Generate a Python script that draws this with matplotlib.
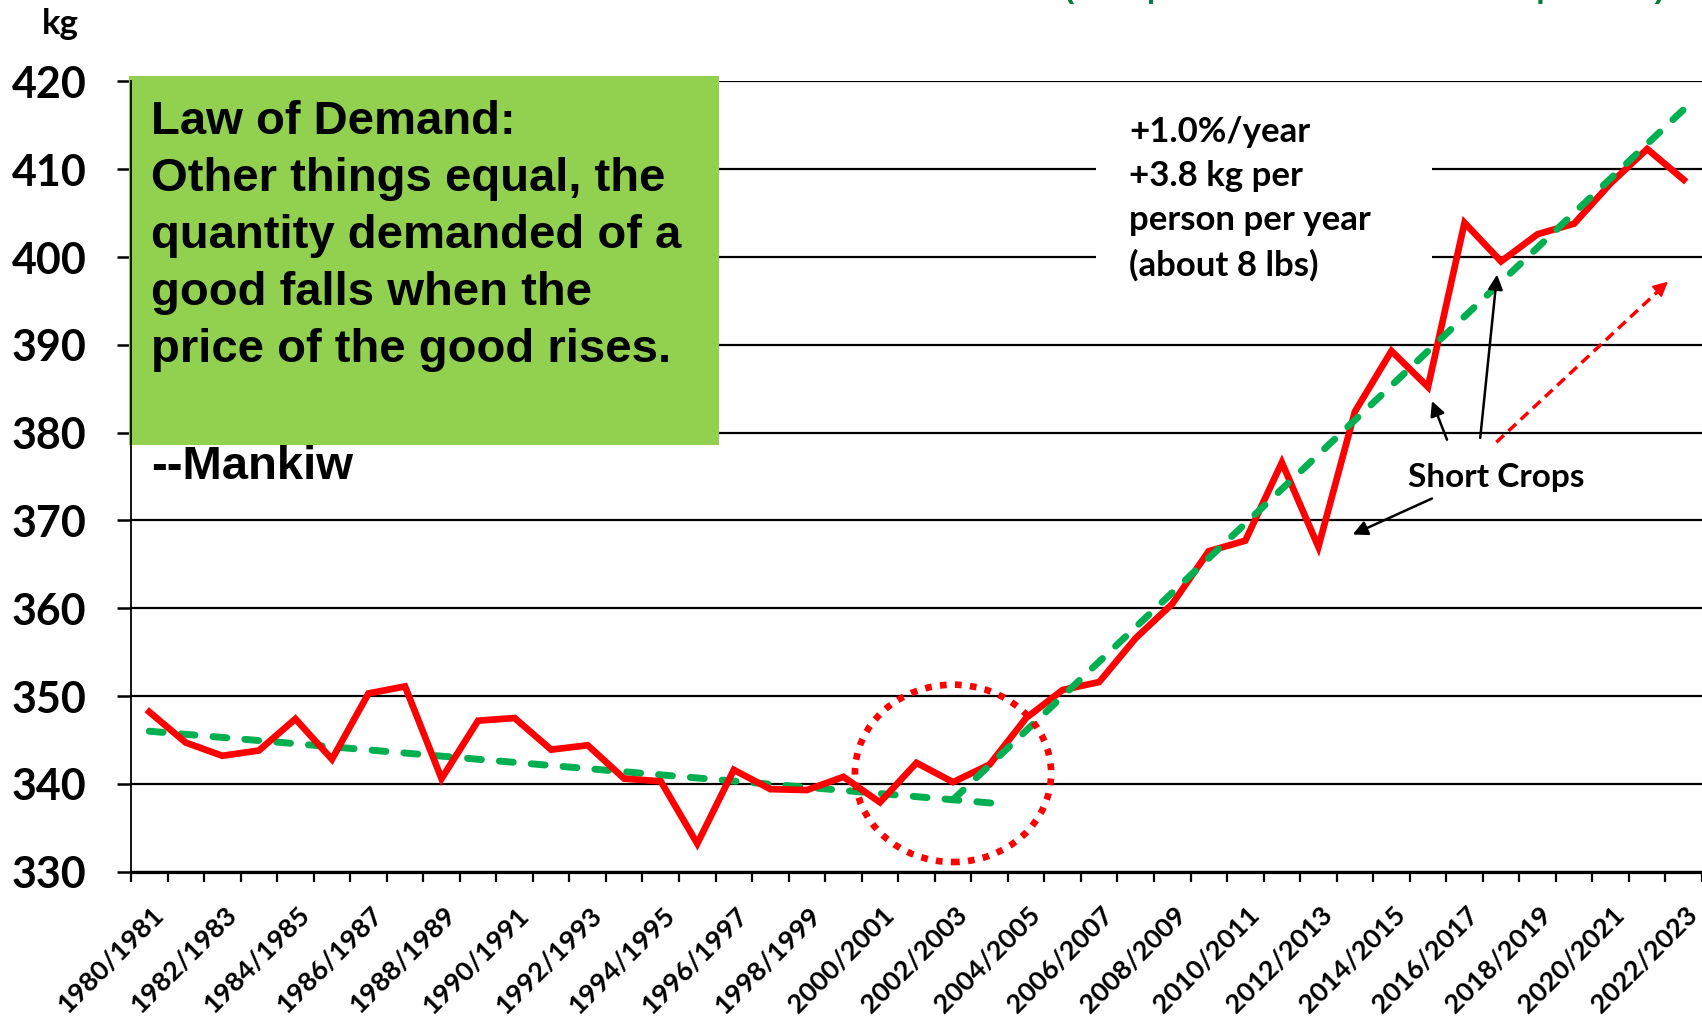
import numpy as np
import matplotlib
matplotlib.use("Agg")
import matplotlib.pyplot as plt
from matplotlib.patches import Ellipse, Rectangle
from matplotlib.transforms import ScaledTranslation

# per-capita consumption by marketing year, kg
seasons = [f"{y}/{y + 1}" for y in range(1980, 2023)]
consumption = [348.2, 344.7, 343.2, 343.8, 347.4, 342.8, 350.3, 351.1, 340.6, 347.2,
               347.5, 343.9, 344.4, 340.6, 340.3, 333.2, 341.6, 339.4, 339.3, 340.8,
               337.9, 342.4, 340.2, 342.2, 347.5, 350.7, 351.6, 356.6, 360.5, 366.5,
               367.7, 376.6, 367.0, 382.4, 389.3, 385.2, 403.9, 399.5, 402.6, 403.8,
               408.4, 412.3, 408.8]

# fitted trends (start / end of each segment)
trend_old_x = [0, 23.1]
trend_old_y = [346.0, 337.8]
trend_new_x = [22, 42.1]
trend_new_y = [338.2, 417.2]

yticks = [330, 340, 350, 360, 370, 380, 390, 400, 410, 420]

box_text = ("Law of Demand:\nOther things equal, the\nquantity demanded of a\n"
            "good falls when the\nprice of the good rises.")
growth_text = "+1.0%/year\n+3.8 kg per\nperson per year\n(about 8 lbs)"

CAL = ["Lato", "DejaVu Sans"]
ARIAL = ["Liberation Sans", "DejaVu Sans"]
RED = "#FF0000"
GREEN = "#00B050"

fig = plt.figure(figsize=(17.02, 10.16), dpi=100)
W, H = 1702, 1016
ax = fig.add_axes([131 / W, (H - 871.7) / H, (W - 131) / W, (871.7 - 81.4) / H])

x = np.arange(len(seasons))
ax.set_xlim(-0.5, len(seasons) - 0.5)
ax.set_ylim(330, 420)

# grid and spines
ax.set_yticks(yticks)
ax.yaxis.grid(True, color="black", lw=1.6, zorder=0)
ax.set_axisbelow(True)
for s in ["top", "right"]:
    ax.spines[s].set_visible(False)
ax.spines["left"].set_linewidth(1.3)
ax.spines["bottom"].set_linewidth(2.3)
ax.tick_params(axis="y", length=10, width=1.8, pad=22)
for lab in ax.get_yticklabels():
    lab.set_fontfamily(CAL)
    lab.set_fontweight("bold")
    lab.set_fontsize(31)

ax.set_xticks(x[::2])
ax.set_xticks(np.arange(-0.5, len(seasons)), minor=True)
ax.tick_params(axis="x", which="major", length=0, pad=22)
ax.tick_params(axis="x", which="minor", length=7, width=1.6)
ax.set_xticklabels(seasons[::2], rotation=45, ha="right", va="center",
                   rotation_mode="anchor", fontsize=19.5, fontweight="bold",
                   family=CAL)
# nudge the slanted labels so their ends sit under each season
shift = ScaledTranslation(0.10, -0.09, fig.dpi_scale_trans)
for lab in ax.get_xticklabels():
    lab.set_transform(lab.get_transform() + shift)

# series
ax.plot(trend_old_x, trend_old_y, color=GREEN, lw=5, dashes=(2.0, 2.6),
        dash_capstyle="round", zorder=3)
ax.plot(x, consumption, color=RED, lw=4.8, solid_joinstyle="miter", zorder=4)
ax.plot(trend_new_x, trend_new_y, color=GREEN, lw=5, dashes=(2.0, 2.6),
        dash_capstyle="round", zorder=5)

# dotted circle round the turning point
ax.add_patch(Ellipse((22.0, 341.2), width=5.37, height=20.2, fill=False,
                     edgecolor=RED, lw=4.8, linestyle=(0, (1.0, 1.25)), zorder=6))

# green quote box
ax.add_patch(Rectangle((-0.55, 378.6), 16.15, 42.0, facecolor="#92D050",
                       edgecolor="none", zorder=2, clip_on=False))
ax.text(0.05, 417.9, box_text, fontsize=34, fontweight="bold", family=ARIAL,
        va="top", ha="left", linespacing=1.38, zorder=7)
ax.text(0.05, 378.6, "--Mankiw", fontsize=34, fontweight="bold", family=ARIAL,
        va="top", ha="left", zorder=7)

# growth note on a white patch over the gridlines
ax.add_patch(Rectangle((25.9, 396.5), 9.2, 20.5, facecolor="white",
                       edgecolor="none", zorder=1))
ax.text(26.82, 416.1, growth_text, fontsize=25, fontweight="bold", family=CAL,
        va="top", ha="left", linespacing=1.47, zorder=7)

# short-crop callouts
ax.text(36.87, 374.9, "Short Crops", fontsize=24, fontweight="bold", family=CAL,
        va="center", ha="center", zorder=7)
arrow = dict(arrowstyle="-|>", color="black", lw=1.8, mutation_scale=22,
             shrinkA=0, shrinkB=0)
ax.annotate("", xy=(35.11, 383.6), xytext=(35.52, 379.2), arrowprops=arrow, zorder=7)
ax.annotate("", xy=(36.89, 398.0), xytext=(36.43, 379.4), arrowprops=arrow, zorder=7)
ax.annotate("", xy=(32.94, 368.4), xytext=(35.11, 372.5), arrowprops=arrow, zorder=7)

# red dashed trend arrow
ax.plot([36.87, 41.4], [378.9, 396.5], color=RED, lw=2.5, dashes=(3.0, 1.8), zorder=7)
ax.annotate("", xy=(41.57, 397.2), xytext=(41.30, 396.2),
            arrowprops=dict(arrowstyle="-|>", color=RED, lw=1.5,
                            mutation_scale=22, shrinkA=0, shrinkB=0), zorder=7)

fig.text(60 / W, 1 - 24 / H, "kg", fontsize=25, fontweight="bold", family=CAL,
         ha="center", va="center")
fig.text(1665 / W, 1 + 3 / H, "Global Rice Demand (Rice per Head of World Total Population)",
         fontsize=22, fontweight="bold", family=ARIAL, color="#0A7B3E",
         ha="right", va="baseline")

fig.savefig("out.png", dpi=100)
